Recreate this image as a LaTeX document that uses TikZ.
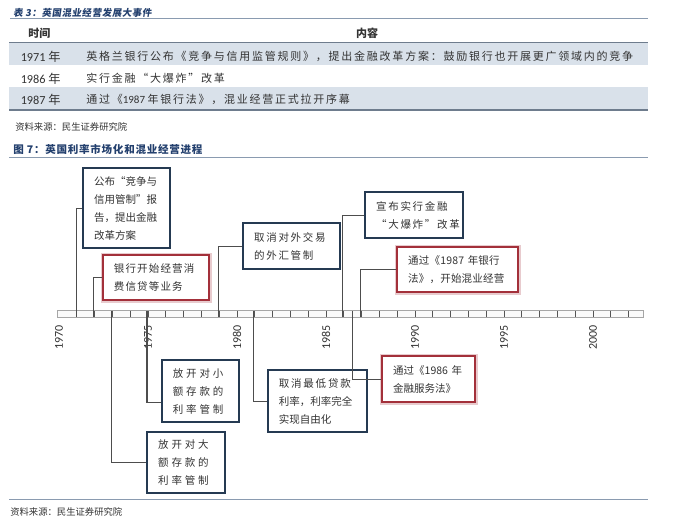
\documentclass[tikz,border=0pt]{standalone}
\usepackage{fontspec}
\setmainfont{Carlito}
\newfontfamily\cjk{Noto Sans CJK SC}
\newfontfamily\cjkrow[LetterSpace=16]{Noto Sans CJK SC}
\usetikzlibrary{calc}
\definecolor{titleblue}{HTML}{23406E}
\definecolor{textgray}{HTML}{333333}
\definecolor{rowshade}{HTML}{D9E1EA}
\definecolor{rulecol}{HTML}{8A9BB0}
\definecolor{navy}{HTML}{253A52}
\definecolor{boxred}{HTML}{A3303A}
\definecolor{conncol}{HTML}{4D4D4D}
\definecolor{axisline}{HTML}{A6A6A6}
\definecolor{tickcol}{HTML}{555555}
\begin{document}
\begin{tikzpicture}[x=0.75pt,y=-0.75pt,
  conn/.style={draw=conncol, line width=0.8pt},
  txt/.style={inner sep=0pt, text=textgray},
  navybox/.style={draw=navy, line width=1.8pt, fill=white, anchor=north west,
    inner xsep=8.25pt, inner ysep=0pt, align=left, text=textgray,
    font=\cjk\fontsize{7.875}{13.6}\selectfont},
  redbox/.style={navybox, draw=boxred, preaction={draw=boxred!25, line width=3.6pt}},
  ticks/.style={draw=tickcol, line width=0.7pt},
  yearlab/.style={rotate=90, inner sep=0pt, text=textgray, font=\fontsize{9}{10}\selectfont}]
\useasboundingbox (0,0) rectangle (681,525);
\fill[white] (0,0) rectangle (681,525);

% ---------------- table ----------------
\fill[rowshade] (9,42) rectangle (648,65);
\fill[rowshade] (9,87) rectangle (648,110);
\draw[rulecol, line width=0.9pt] (10,18.5) -- (648,18.5);
\draw[rulecol!80!black, line width=0.6pt] (9,42) -- (648,42);
\draw[rulecol!80!black, line width=0.9pt] (9,110) -- (648,110);

\node[txt, anchor=west, text=titleblue, font=\cjk\bfseries\fontsize{7.1}{8}\selectfont\addfontfeature{LetterSpace=6,FakeSlant=0.15}] (ttl3) at (13,12.5) {表 3：英国混业经营发展大事件};
\node[txt, anchor=west, font=\cjk\bfseries\fontsize{8.25}{9}\selectfont] (hd1) at (28,33) {时间};
\node[txt, font=\cjk\bfseries\fontsize{8.25}{9}\selectfont] (hd2) at (367,33) {内容};

\node[txt, anchor=west, font=\fontsize{9.2}{10}\selectfont] (y1) at (20.5,56.5) {1971 {\cjk 年}};
\node[txt, anchor=west, font=\fontsize{9.2}{10}\selectfont] (y2) at (20.5,78.5) {1986 {\cjk 年}};
\node[txt, anchor=west, font=\fontsize{9.2}{10}\selectfont] (y3) at (20.5,99.5) {1987 {\cjk 年}};
\node[txt, anchor=west, font=\cjkrow\fontsize{8.25}{9}\selectfont] (c1) at (86,56.5) {英格兰银行公布《竞争与信用监管规则》，提出金融改革方案：鼓励银行也开展更广领域内的竞争};
\node[txt, anchor=west, font=\cjkrow\fontsize{8.25}{9}\selectfont] (c2) at (86,78.5) {实行金融“大爆炸”改革};
\node[txt, anchor=west, font=\fontsize{8.25}{9}\selectfont] (c3) at (86,99.5) {{\cjkrow 通过《}1987 {\cjkrow 年银行法》，混业经营正式拉开序幕}};

\node[txt, anchor=west, font=\cjk\fontsize{7}{8}\selectfont] (src1) at (15,127) {资料来源：民生证券研究院};

% ---------------- figure title ----------------
\node[txt, anchor=west, text=titleblue, font=\cjk\bfseries\fontsize{7.9}{9}\selectfont\addfontfeature{LetterSpace=7}] (ttl7) at (13,149) {图 7：英国利率市场化和混业经营进程};
\draw[rulecol, line width=1.3pt] (9,157.5) -- (648,157.5);

% ---------------- axis ----------------
\node[draw=axisline, fill=white!96!gray, line width=0.6pt, minimum width=439.5pt, minimum height=4.8pt, inner sep=0pt, anchor=west] (axis) at (57,314) {};
\foreach \yr in {1971,...,2002}
  \draw[ticks] ({59+17.8*(\yr-1970)},310.5) -- ++(0,6.8);
\foreach \yr in {1970,1975,...,2000}
  \node[yearlab] (lab\yr) at ({59+17.8*(\yr-1970)},337.5) {\yr};

\coordinate (a1971) at (76.5,317);
\coordinate (a1972) at (93.8,317);
\coordinate (a1979) at (218.5,317);
\coordinate (a1986) at (342.5,317);
\coordinate (a1987) at (360.3,317);
\coordinate (a1973) at (111.5,311);
\coordinate (a1975) at (147,311);
\coordinate (a1981) at (253.7,311);
\coordinate (a1986h) at (352.7,311);

% ---------------- boxes above ----------------
\node[navybox, minimum width=65.25pt, text width=48.75pt, minimum height=60pt] (b1) at (82,167)
  {公布“竞争与\\信用管制”报\\告，提出金融\\改革方案};
\node[redbox, minimum width=79.7pt, text width=63.2pt, minimum height=33.75pt, font=\cjk\fontsize{7.875}{13.6}\selectfont\addfontfeature{LetterSpace=11}] (b2) at (101.7,254)
  {银行开始经营消\\费信贷等业务};
\node[navybox, minimum width=72.75pt, text width=56.25pt, minimum height=34.5pt, font=\cjk\fontsize{7.875}{13.6}\selectfont\addfontfeature{LetterSpace=16}] (b3) at (242,222)
  {取消对外交易\\的外汇管制};
\node[navybox, minimum width=73.5pt, text width=57pt, minimum height=34.5pt, font=\cjk\fontsize{7.875}{13.6}\selectfont\addfontfeature{LetterSpace=16}] (b4) at (364,191)
  {宣布实行金融\\“大爆炸”改革};
\node[redbox, minimum width=90.75pt, text width=74.25pt, minimum height=33.75pt, font=\cjk\fontsize{7.875}{13.6}\selectfont\addfontfeature{LetterSpace=2}] (b5) at (396,246)
  {通过《1987 年银行\\法》，开始混业经营};

% ---------------- boxes below ----------------
\node[navybox, minimum width=58.5pt, text width=42pt, minimum height=45.75pt, font=\cjk\fontsize{7.875}{13.4}\selectfont\addfontfeature{LetterSpace=27}] (b6) at (146,431)
  {放开对大\\额存款的\\利率管制};
\node[navybox, minimum width=58pt, text width=41.5pt, minimum height=46.5pt, font=\cjk\fontsize{7.875}{13.4}\selectfont\addfontfeature{LetterSpace=27}] (b7) at (160.7,359)
  {放开对小\\额存款的\\利率管制};
\node[navybox, minimum width=74.25pt, text width=57.75pt, minimum height=46.5pt, font=\cjk\fontsize{7.875}{13.4}\selectfont] (b8) at (266.7,369)
  {{\addfontfeature{LetterSpace=17}取消最低贷款}\\利率，利率完全\\实现自由化};
\node[redbox, minimum width=69.75pt, text width=53.25pt, minimum height=34.5pt] (b9) at (381,355)
  {通过《1986 年\\金融服务法》};

% ---------------- connectors ----------------
\draw[conn] (b1.west) -| (a1971);
\draw[conn] (b2.west) -| (a1972);
\draw[conn] (b3.west) -| (a1979);
\draw[conn] (b4.west) -| (a1986);
\draw[conn] (b5.west) -| (a1987);
\draw[conn] (a1973) |- (b6.west);
\draw[conn] (a1975) |- ([yshift=-8.25pt]b7.west);
\draw[conn] (a1981) |- (b8.west);
\draw[conn] (a1986h) |- (b9.west);

% ---------------- bottom ----------------
\draw[rulecol, line width=1.3pt] (9,499.5) -- (648,499.5);
\node[txt, anchor=west, font=\cjk\fontsize{7}{8}\selectfont] (src2) at (10,512) {资料来源：民生证券研究院};
\end{tikzpicture}
\end{document}
